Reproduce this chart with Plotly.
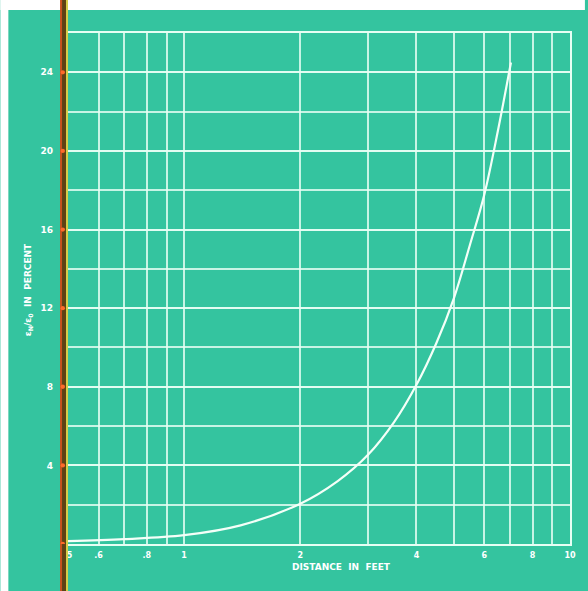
import math
import plotly.graph_objects as go

# ---- data ----
distance_ft = [0.5, 0.7, 1.0, 1.4, 2.0, 2.5, 3.0, 3.5, 4.0, 4.5, 5.0, 5.5, 6.0, 6.5, 7.03]
ratio_pct = [0.15, 0.25, 0.45, 0.95, 2.05, 3.2, 4.55, 6.2, 8.1, 10.2, 12.5, 15.2, 17.8, 21.0, 24.5]

x_tick_vals = [0.5, 0.6, 0.7, 0.8, 0.9, 1, 2, 3, 4, 5, 6, 7, 8, 9, 10]
x_tick_text = [".5", ".6", "", ".8", "", "1", "2", "", "4", "", "6", "", "8", "", "10"]
y_tick_vals = [4, 8, 12, 16, 20, 24]
y_tick_text = ["4", "8", "12", "16", "20", "24"]
y_grid_vals = [0, 2, 4, 6, 8, 10, 12, 14, 16, 18, 20, 22, 24, 26]
stripe_dot_vals = [0, 4, 8, 12, 16, 20, 24]

# ---- styling / layout constants ----
TEAL = "#34c49f"
GRID = "rgba(232,255,244,0.82)"
W, H = 588, 591
L, R, T, B = 68, 15, 33, 47
PW, PH = W - L - R, H - T - B


def fx(p):
    return (p - L) / PW


def fy(p):
    return (H - B - p) / PH


FONT = "DejaVu Sans"

fig = go.Figure(
    go.Scatter(
        x=distance_ft, y=ratio_pct, mode="lines",
        line=dict(color="#f4fff8", width=2.2, shape="spline", smoothing=1.0),
        hoverinfo="skip", showlegend=False,
    )
)

fig.update_layout(
    width=W, height=H,
    margin=dict(l=L, r=R, t=T, b=B, pad=0),
    paper_bgcolor=TEAL, plot_bgcolor=TEAL,
    showlegend=False,
    xaxis=dict(
        type="log", range=[math.log10(0.5), 1],
        tickmode="array", tickvals=x_tick_vals, ticktext=x_tick_text,
        showgrid=True, gridcolor=GRID, gridwidth=2,
        showline=True, mirror=True, linecolor="#e6fff4", linewidth=2.2,
        zeroline=False, ticks="",
        tickfont=dict(family=FONT, size=8, color="white", weight="bold"),
        ticklabelstandoff=2,
    ),
    yaxis=dict(
        range=[0, 26],
        tickmode="array", tickvals=y_tick_vals, ticktext=y_tick_text,
        showgrid=True, gridcolor=GRID, gridwidth=2,
        minor=dict(tickvals=y_grid_vals, showgrid=True, gridcolor=GRID, gridwidth=2, ticks=""),
        showline=True, mirror=True, linecolor="#e6fff4", linewidth=2.2,
        zeroline=False, ticks="",
        tickfont=dict(family=FONT, size=9, color="white", weight="bold"),
        ticklabelstandoff=11,
    ),
)

fig.add_annotation(
    text="DISTANCE  IN  FEET", xref="paper", yref="paper",
    x=fx(343), y=fy(567), showarrow=False, xanchor="center", yanchor="middle",
    font=dict(family=FONT, size=9, color="white", weight="bold"),
)
fig.add_annotation(
    text="ε<sub>N</sub>/ε<sub>0</sub>  IN  PERCENT", xref="paper", yref="paper",
    x=fx(28), y=fy(290), showarrow=False, xanchor="center", yanchor="middle",
    textangle=-90,
    font=dict(family=FONT, size=9, color="white", weight="bold"),
)

shapes = []
# white scan margins
shapes.append(dict(type="rect", xref="paper", yref="paper", x0=fx(0), x1=fx(W), y0=fy(10), y1=fy(0),
                   fillcolor="white", line=dict(width=0), layer="above"))
shapes.append(dict(type="rect", xref="paper", yref="paper", x0=fx(0), x1=fx(8), y0=fy(H), y1=fy(0),
                   fillcolor="white", line=dict(width=0), layer="above"))
# dark scan stripe on the left edge
shapes.append(dict(type="rect", xref="paper", yref="paper", x0=fx(60), x1=fx(62), y0=fy(H), y1=fy(0),
                   fillcolor="#c9501c", line=dict(width=0), layer="above"))
shapes.append(dict(type="rect", xref="paper", yref="paper", x0=fx(62), x1=fx(66), y0=fy(H), y1=fy(0),
                   fillcolor="#5e4214", line=dict(width=0), layer="above"))
shapes.append(dict(type="rect", xref="paper", yref="paper", x0=fx(66), x1=fx(68), y0=fy(H), y1=fy(0),
                   fillcolor="#d7cf4a", line=dict(width=0), layer="above"))
for v in stripe_dot_vals:
    shapes.append(dict(type="circle", xref="paper", yref="y", x0=fx(60.5), x1=fx(65),
                       y0=v - 0.11, y1=v + 0.11,
                       fillcolor="#ff6a2a", line=dict(width=0), layer="above"))
fig.update_layout(shapes=shapes)

fig.write_html(
    "out.html",
    config={"displayModeBar": False, "staticPlot": True},
    post_script=(
        "document.documentElement.style.margin='0';"
        "document.documentElement.style.overflow='hidden';"
        "document.documentElement.style.background='" + TEAL + "';"
        "document.body.style.margin='0';document.body.style.padding='0';"
        "document.body.style.overflow='hidden';"
        "document.body.style.background='" + TEAL + "';"
    ),
)
